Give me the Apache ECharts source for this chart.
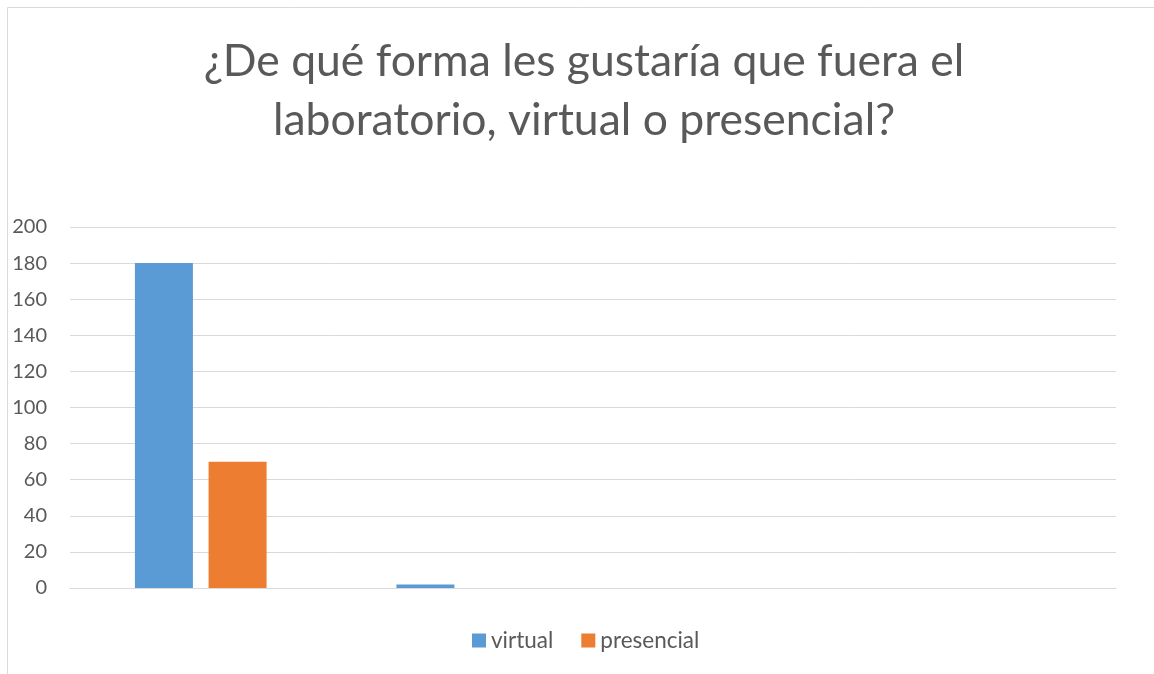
<!DOCTYPE html>
<html>
<head>
<meta charset="utf-8">
<script src="https://cdn.jsdelivr.net/npm/echarts@6/dist/echarts.min.js"></script>
<style>
  html, body { margin: 0; padding: 0; background: #fff; }
  #main { width: 1154px; height: 674px; }
</style>
</head>
<body>
<div id="main"></div>
<script>
// datos
var categorias = ['1', '2', '3', '4'];
var virtual = [180, 2, null, null];
var presencial = [70, 0, null, null];
var tituloTexto = '¿De qué forma les gustaría que fuera el\nlaboratorio, virtual o presencial?';

var myChart = echarts.init(document.getElementById('main'));
var fuente = 'Lato, "Open Sans", sans-serif';

var option = {
  animation: false,
  color: ['#5b9bd5', '#ed7d31'],
  textStyle: { fontFamily: fuente },
  graphic: [
    {
      type: 'rect',
      shape: { x: 7.5, y: 7.5, width: 1300, height: 800 },
      style: { fill: 'none', stroke: '#d9d9d9', lineWidth: 1 },
      silent: true
    },
    {
      type: 'text',
      x: 584,
      y: 32,
      style: {
        text: tituloTexto,
        textAlign: 'center',
        fontFamily: fuente,
        fontSize: 44.5,
        lineHeight: 59,
        fill: '#595959'
      }
    }
  ],
  legend: {
    bottom: 17,
    left: 467,
    icon: 'rect',
    itemWidth: 14,
    itemHeight: 14,
    itemGap: 28,
    itemTextGap: 5,
    textStyle: { fontSize: 22.5, color: '#595959', fontFamily: fuente },
    data: ['virtual', 'presencial']
  },
  grid: {
    left: 70,
    right: 38,
    top: 227,
    bottom: 86,
    containLabel: false
  },
  xAxis: {
    type: 'category',
    data: categorias,
    axisLine: { lineStyle: { color: '#d9d9d9', width: 1 } },
    axisTick: { show: false },
    axisLabel: { show: false }
  },
  yAxis: {
    type: 'value',
    min: 0,
    max: 200,
    interval: 20,
    axisLine: { show: false },
    axisTick: { show: false },
    axisLabel: { fontSize: 20, color: '#595959', margin: 23, fontFamily: fuente },
    splitLine: { lineStyle: { color: '#d9d9d9', width: 1 } }
  },
  series: [
    { name: 'virtual', type: 'bar', data: virtual, barWidth: 58, barGap: '27%' },
    { name: 'presencial', type: 'bar', data: presencial, barWidth: 58, barGap: '27%' }
  ]
};

myChart.setOption(option);
window.addEventListener('resize', function () {
  myChart.resize();
});
</script>
</body>
</html>
